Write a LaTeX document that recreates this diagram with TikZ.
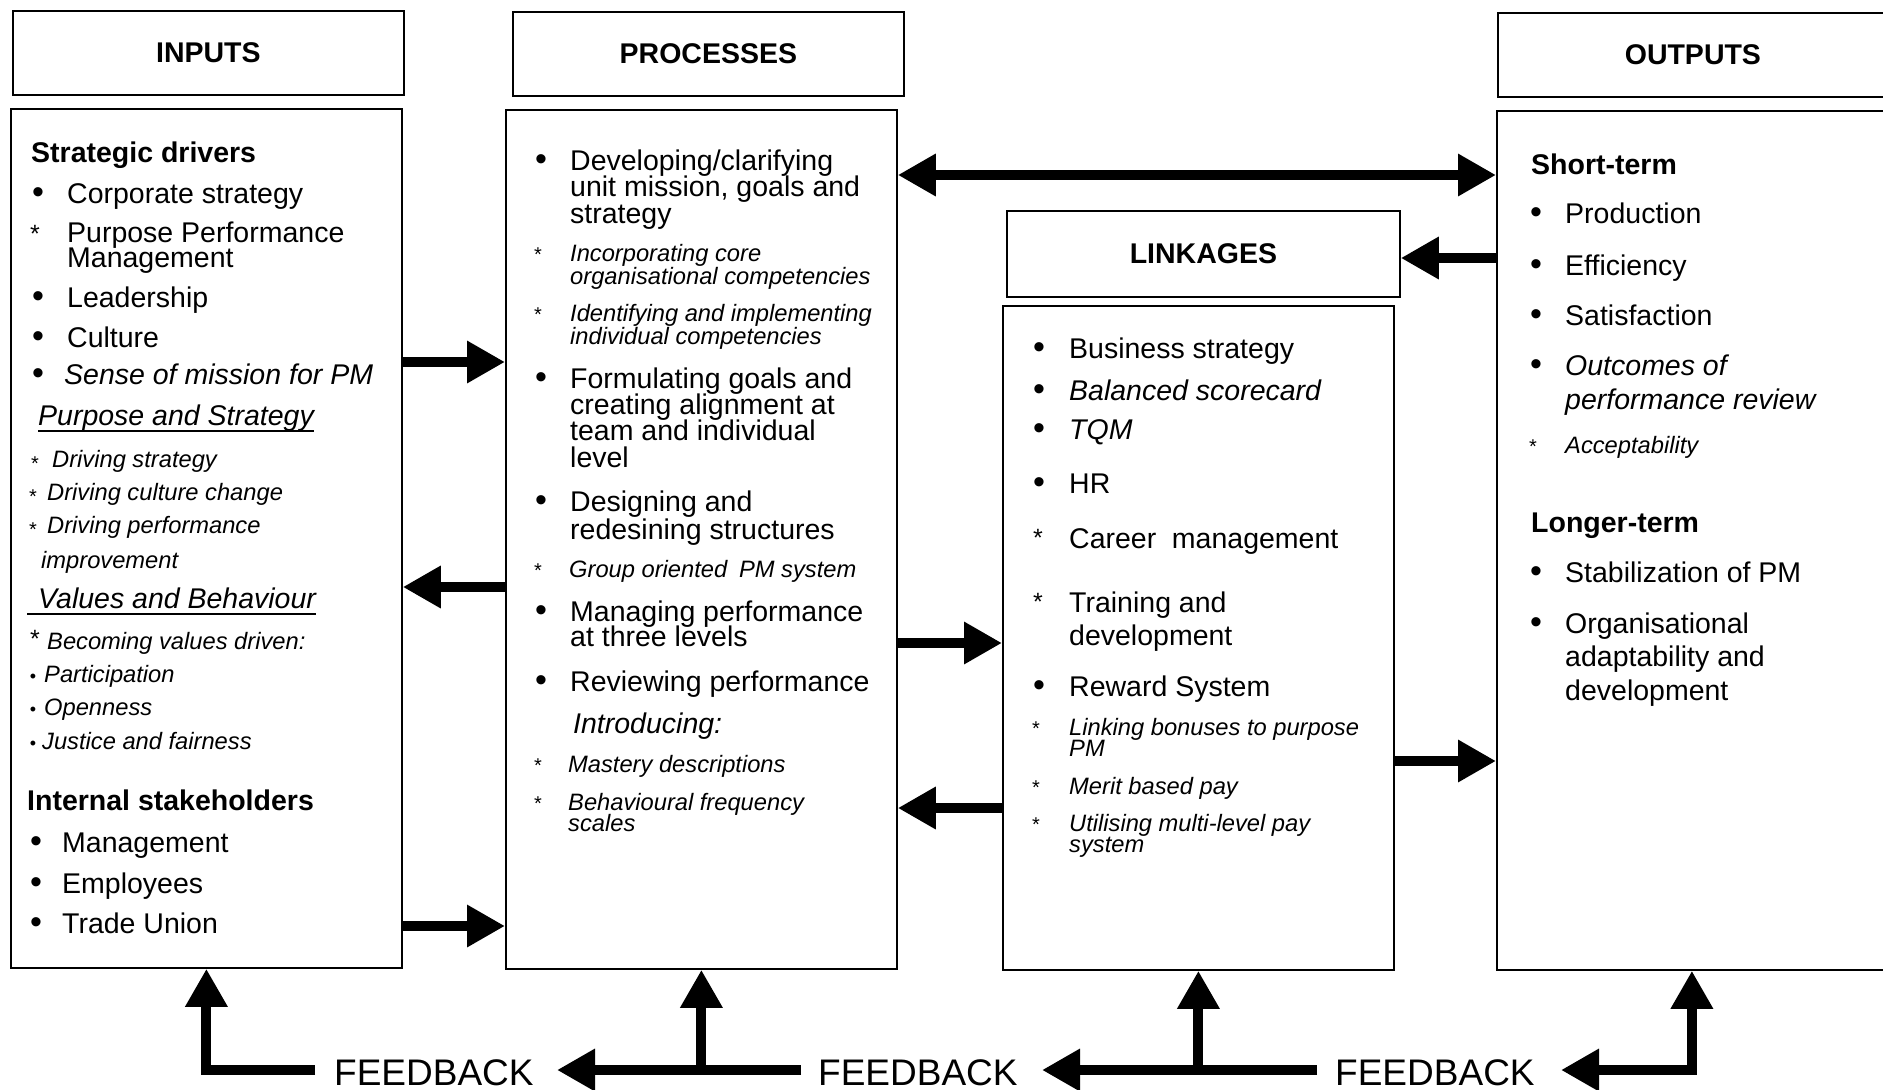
\documentclass[tikz,border=0pt]{standalone}
\usepackage{fontspec}
\setmainfont{Liberation Sans}
\usetikzlibrary{arrows.meta}
\tikzset{
  box/.style={draw, line width=1.8pt, inner sep=0pt, anchor=north west, font=\fontsize{28.5pt}{28pt}\selectfont\bfseries},
  tx/.style={anchor=base west, inner sep=0pt, font=\fontsize{28.5pt}{27pt}\selectfont},
  itx/.style={tx, font=\fontsize{28.5pt}{27pt}\selectfont\itshape},
  bfx/.style={tx, font=\fontsize{28.5pt}{27pt}\selectfont\bfseries},
  smx/.style={tx, font=\fontsize{23.7pt}{23pt}\selectfont\itshape},
  fbx/.style={tx, font=\fontsize{37pt}{37pt}\selectfont},
  bul/.style={anchor=base, inner sep=0pt, font=\fontsize{34pt}{34pt}\selectfont},
  sbul/.style={anchor=base, inner sep=0pt, font=\fontsize{18pt}{18pt}\selectfont},
  ast/.style={anchor=base, inner sep=0pt, font=\fontsize{25pt}{25pt}\selectfont},
  sast/.style={anchor=base, inner sep=0pt, font=\fontsize{20pt}{20pt}\selectfont},
  last/.style={sast, yshift=-3pt},
  uline/.style={line width=1.5pt},
  bigarr/.style={line width=10pt, -{Triangle[length=38pt,width=40pt]}},
  dblarr/.style={line width=10pt, {Triangle[length=38pt,width=40pt]}-{Triangle[length=38pt,width=40pt]}},
}
\begin{document}
\begin{tikzpicture}[x=1pt,y=-1pt]
\useasboundingbox (0,0) rectangle (1883,1090);
\clip (0,0) rectangle (1883,1090);

% boxes
\node[box, minimum width=391pt, minimum height=84pt] (inh) at (12,10) {INPUTS};
\node[box, minimum width=391pt, minimum height=859pt] (inb) at (10,108) {};
\node[box, minimum width=391pt, minimum height=84pt] (prh) at (512,11) {PROCESSES};
\node[box, minimum width=391pt, minimum height=859pt] (prb) at (505,109) {};
\node[box, minimum width=393pt, minimum height=86pt] (lkh) at (1006,210) {LINKAGES};
\node[box, minimum width=391pt, minimum height=664pt] (lkb) at (1002,305) {};
\node[box, minimum width=390pt, minimum height=84pt] (outh) at (1497,12) {OUTPUTS};
\node[box, minimum width=390pt, minimum height=859pt] (outb) at (1496,110) {};

% INPUTS content
\node[bfx] (sd) at (31,162) {Strategic drivers};
\node[bul] (ib1) at (38,203) {•}; \node[tx] (cs) at (67,203) {Corporate strategy};
\node[ast] (ia1) at (35,242) {*}; \node[tx] (pp1) at (67,242) {Purpose Performance};
\node[tx] (pp2) at (67,267) {Management};
\node[bul] (ib2) at (38,307) {•}; \node[tx] (ld) at (67,307) {Leadership};
\node[bul] (ib3) at (38,347) {•}; \node[tx] (cu) at (67,347) {Culture};
\node[bul] (ib4) at (38,384) {•}; \node[itx] (sm) at (64,384) {Sense of mission for PM};
\node[itx] (pas) at (38,425) {Purpose and Strategy};
\draw[uline] ([yshift=-6pt]pas.base west) -- ([yshift=-6pt]pas.base east);
\node[last] (ia2) at (35,467) {*}; \node[smx] (ds) at (52,467) {Driving strategy};
\node[last] (ia3) at (33,500) {*}; \node[smx] (dc) at (47,500) {Driving culture change};
\node[last] (ia4) at (33,533) {*}; \node[smx] (dp1) at (47,533) {Driving performance};
\node[smx] (dp2) at (41,568) {improvement};
\node[itx] (vb) at (38,608) {Values and Behaviour};
\draw[uline] ([xshift=-11pt,yshift=-6pt]vb.base west) -- ([yshift=-6pt]vb.base east);
\node[ast] (ia5) at (35,647) {*}; \node[smx] (bv) at (47,649) {Becoming values driven:};
\node[sbul] (ib5) at (33,682) {•}; \node[smx] (pa) at (44,682) {Participation};
\node[sbul] (ib6) at (33,715) {•}; \node[smx] (op) at (44,715) {Openness};
\node[sbul] (ib7) at (33,749) {•}; \node[smx] (jf) at (42,749) {Justice and fairness};
\node[bfx] (is) at (27,810) {Internal stakeholders};
\node[bul] (ib8) at (36,852) {•}; \node[tx] (mg) at (62,852) {Management};
\node[bul] (ib9) at (36,893) {•}; \node[tx] (em) at (62,893) {Employees};
\node[bul] (ib10) at (36,933) {•}; \node[tx] (tu) at (62,933) {Trade Union};

% PROCESSES content
\node[bul] (pb1) at (541,170) {•};
\node[tx] (p11) at (570,170) {Developing/clarifying};
\node[tx] (p12) at (570,196) {unit mission, goals and};
\node[tx] (p13) at (570,223) {strategy};
\node[sast] (pa1) at (538,261) {*};
\node[smx] (p21) at (570,261) {Incorporating core};
\node[smx] (p22) at (570,284) {organisational competencies};
\node[sast] (pa2) at (538,321) {*};
\node[smx] (p31) at (570,321) {Identifying and implementing};
\node[smx] (p32) at (570,344) {individual competencies};
\node[bul] (pb2) at (541,388) {•};
\node[tx] (p41) at (570,388) {Formulating goals and};
\node[tx] (p42) at (570,414) {creating alignment at};
\node[tx] (p43) at (570,440) {team and individual};
\node[tx] (p44) at (570,467) {level};
\node[bul] (pb3) at (541,511) {•};
\node[tx] (p51) at (570,511) {Designing and};
\node[tx] (p52) at (570,539) {redesining structures};
\node[sast] (pa3) at (538,577) {*};
\node[smx] (p6) at (569,577) {Group oriented\hspace{0.5em}PM system};
\node[bul] (pb4) at (541,621) {•};
\node[tx] (p71) at (570,621) {Managing performance};
\node[tx] (p72) at (570,646) {at three levels};
\node[bul] (pb5) at (541,691) {•};
\node[tx] (p8) at (570,691) {Reviewing performance};
\node[itx] (p9) at (573,733) {Introducing:};
\node[sast] (pa4) at (538,772) {*};
\node[smx] (p10) at (568,772) {Mastery descriptions};
\node[sast] (pa5) at (538,810) {*};
\node[smx] (p111) at (568,810) {Behavioural frequency};
\node[smx] (p112) at (568,831) {scales};

% LINKAGES content
\node[bul] (lb1) at (1039,358) {•}; \node[tx] (l1) at (1069,358) {Business strategy};
\node[bul] (lb2) at (1039,400) {•}; \node[itx] (l2) at (1069,400) {Balanced scorecard};
\node[bul] (lb3) at (1039,439) {•}; \node[itx] (l3) at (1069,439) {TQM};
\node[bul] (lb4) at (1039,493) {•}; \node[tx] (l4) at (1069,493) {HR};
\node[ast] (la1) at (1038,546) {*}; \node[tx] (l5) at (1069,548) {Career\hspace{0.55em}management};
\node[ast] (la2) at (1038,610) {*}; \node[tx] (l61) at (1069,612) {Training and};
\node[tx] (l62) at (1069,645) {development};
\node[bul] (lb5) at (1039,696) {•}; \node[tx] (l7) at (1069,696) {Reward System};
\node[sast] (la3) at (1036,735) {*}; \node[smx] (l81) at (1069,735) {Linking bonuses to purpose};
\node[smx] (l82) at (1069,756) {PM};
\node[sast] (la4) at (1036,794) {*}; \node[smx] (l9) at (1069,794) {Merit based pay};
\node[sast] (la5) at (1036,831) {*}; \node[smx] (l101) at (1069,831) {Utilising multi-level pay};
\node[smx] (l102) at (1069,852) {system};

% OUTPUTS content
\node[bfx] (st) at (1531,174) {Short-term};
\node[bul] (ob1) at (1536,223) {•}; \node[tx] (o1) at (1565,223) {Production};
\node[bul] (ob2) at (1536,275) {•}; \node[tx] (o2) at (1565,275) {Efficiency};
\node[bul] (ob3) at (1536,325) {•}; \node[tx] (o3) at (1565,325) {Satisfaction};
\node[bul] (ob4) at (1536,375) {•}; \node[itx] (o41) at (1565,375) {Outcomes of};
\node[itx] (o42) at (1565,409) {performance review};
\node[sast] (oa1) at (1533,453) {*}; \node[smx] (o5) at (1565,453) {Acceptability};
\node[bfx] (lt) at (1531,532) {Longer-term};
\node[bul] (ob5) at (1536,582) {•}; \node[tx] (o6) at (1565,582) {Stabilization of PM};
\node[bul] (ob6) at (1536,633) {•}; \node[tx] (o71) at (1565,633) {Organisational};
\node[tx] (o72) at (1565,666) {adaptability and};
\node[tx] (o73) at (1565,700) {development};

% connectors between boxes
\draw[bigarr] (inb.east |- 0,362) -- (prb.west |- 0,362);
\draw[bigarr] (prb.west |- 0,587) -- (inb.east |- 0,587);
\draw[bigarr] (inb.east |- 0,926) -- (prb.west |- 0,926);
\draw[dblarr] (prb.east |- 0,175) -- (outb.west |- 0,175);
\draw[bigarr] (outb.west |- 0,258) -- (lkh.east |- 0,258);
\draw[bigarr] (prb.east |- 0,643) -- (lkb.west |- 0,643);
\draw[bigarr] (lkb.west |- 0,808) -- (prb.east |- 0,808);
\draw[bigarr] (lkb.east |- 0,761) -- (outb.west |- 0,761);

% feedback
\node[fbx] (fb1) at (334,1085) {FEEDBACK};
\node[fbx] (fb2) at (818,1085) {FEEDBACK};
\node[fbx] (fb3) at (1335,1085) {FEEDBACK};
\coordinate (f1s) at (315,1070);
\coordinate (f2s) at (801,1070);
\coordinate (f2t) at (557,1070);
\coordinate (f3s) at (1317,1070);
\coordinate (f3t) at (1042,1070);
\coordinate (f4t) at (1561,1070);
\draw[bigarr] (f1s) -| (inb.south);
\draw[bigarr] (f2s) -- (f2t);
\draw[bigarr] (prb.south |- f2s) -- (prb.south);
\draw[bigarr] (f3s) -- (f3t);
\draw[bigarr] (lkb.south |- f3s) -- (lkb.south);
\draw[dblarr] (f4t) -| (outb.south);
\end{tikzpicture}
\end{document}
